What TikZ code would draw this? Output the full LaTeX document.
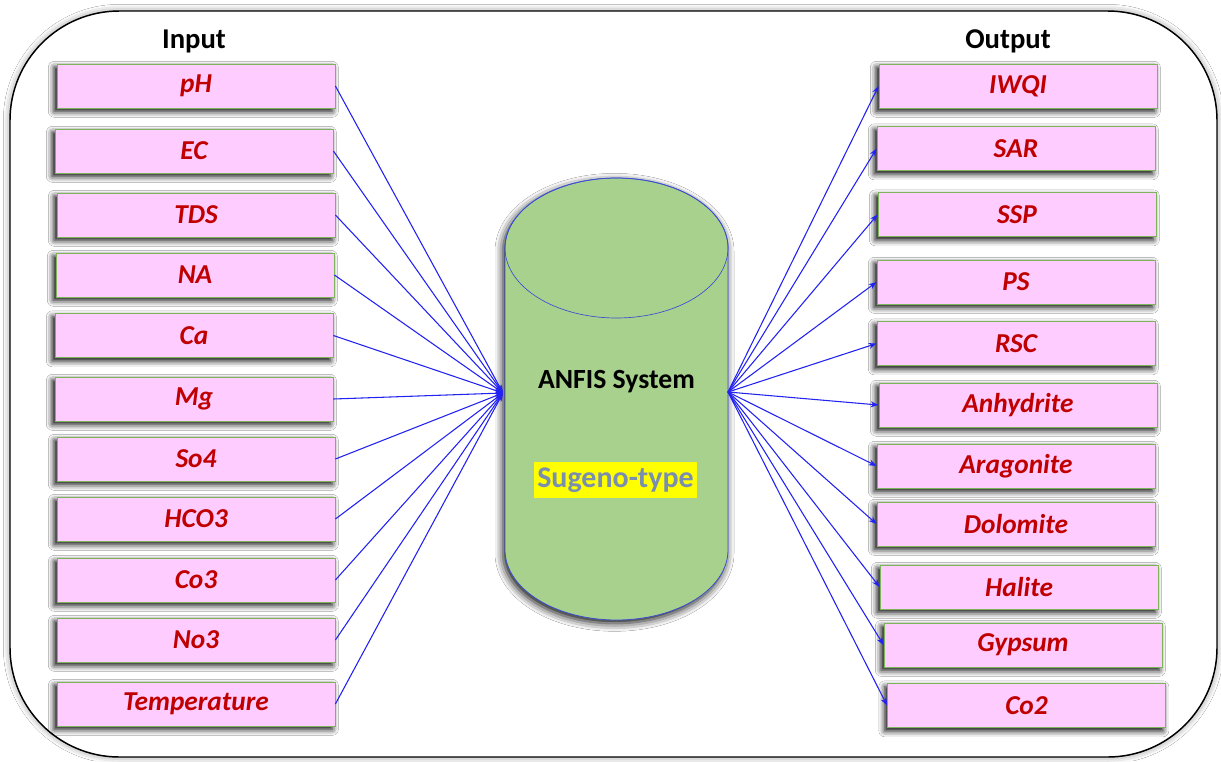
\documentclass[tikz,border=0pt]{standalone}
\usepackage{fontspec}
\setmainfont{Carlito}
\usetikzlibrary{arrows.meta,shadows.blur}
\definecolor{boxfill}{HTML}{FFCCFF}
\definecolor{boxline}{HTML}{7DB35A}
\definecolor{boxtext}{HTML}{C00000}
\definecolor{cylfill}{HTML}{A9D18E}
\definecolor{cylline}{HTML}{3A4FD0}
\definecolor{wireblue}{HTML}{2222F2}
\definecolor{sugeno}{HTML}{7A8FAE}
\definecolor{hilite}{HTML}{FFFF00}

\begin{document}
\begin{tikzpicture}[x=0.75pt,y=-0.75pt,
  varbox/.style={draw=boxline, line width=0.6pt, fill=boxfill,
    minimum width=208.5pt, minimum height=33pt, inner sep=0pt,
    font=\fontsize{20.5}{24}\selectfont\bfseries\itshape, text=boxtext,
    blur shadow={shadow xshift=-2pt, shadow yshift=-2.5pt,
      shadow blur radius=4.5pt, shadow opacity=100}},
  head/.style={font=\fontsize{21.5}{26}\selectfont\bfseries, anchor=base},
  link/.style={draw=wireblue, line width=0.8pt,
    -{Stealth[length=6pt,width=4.5pt]}}]

\useasboundingbox (0,0) rectangle (1221,761);
\fill[white] (0,0) rectangle (1221,761);

% outer frame
\draw[line width=1.1pt, fill=white, rounded corners=82pt,
  blur shadow={shadow xshift=0pt, shadow yshift=0pt,
    shadow blur radius=5pt, shadow opacity=45}]
  (10,11) rectangle (1217,757);

% headings
\node[head] (inhead) at (194,48) {Input};
\node[head] (outhead) at (1008,48) {Output};

% cylinder body (silhouette) and top ellipse
\path[fill=cylfill, draw=cylline, line width=0.6pt,
  blur shadow={shadow xshift=-1.5pt, shadow yshift=-2.5pt,
    shadow blur radius=6pt, shadow opacity=95}]
  (505,248) -- (505,550)
  .. controls (505,588.66) and (554.92,620) .. (616.5,620)
  .. controls (678.08,620) and (728,588.66) .. (728,550)
  -- (728,248)
  .. controls (728,209.34) and (678.08,178) .. (616.5,178)
  .. controls (554.92,178) and (505,209.34) .. (505,248) -- cycle;
\draw[cylline, line width=0.5pt] (616.5,248) ellipse [x radius=111.5, y radius=70];

\node[font=\fontsize{20.8}{25}\selectfont\bfseries, anchor=base] (anfis)
  at (616.5,388) {ANFIS System};
\fill[hilite] (534,462) rectangle (697,498);
\node[font=\fontsize{22.5}{26}\selectfont\bfseries, text=sugeno] (sugeno)
  at (615.5,480) {Sugeno-type};

% input variables
\node[varbox] (inpH)   at (196,86)    {pH};
\node[varbox] (inEC)   at (194,151)   {EC};
\node[varbox] (inTDS)  at (196,215)   {TDS};
\node[varbox] (inNA)   at (195,275)   {NA};
\node[varbox] (inCa)   at (194,335.5) {Ca};
\node[varbox] (inMg)   at (194,399)   {Mg};
\node[varbox] (inSo)   at (196,459)   {So4};
\node[varbox] (inHCO)  at (196,519)   {HCO3};
\node[varbox] (inCo)   at (196,580)   {Co3};
\node[varbox] (inNo)   at (196,640)   {No3};
\node[varbox] (inTemp) at (196,704)   {Temperature};

% output variables
\node[varbox] (outIWQI) at (1018,86)    {IWQI};
\node[varbox] (outSAR)  at (1016,148.5) {SAR};
\node[varbox] (outSSP)  at (1017,214.5) {SSP};
\node[varbox] (outPS)   at (1016,282)   {PS};
\node[varbox] (outRSC)  at (1016,343.5) {RSC};
\node[varbox] (outAnh)  at (1018,405)   {Anhydrite};
\node[varbox] (outAra)  at (1016,466)   {Aragonite};
\node[varbox] (outDol)  at (1016,524)   {Dolomite};
\node[varbox] (outHal)  at (1019,587)   {Halite};
\node[varbox] (outGyp)  at (1023,645)   {Gypsum};
\node[varbox] (outCO)   at (1026.5,705.5) {Co2};

% connectors
\coordinate (hubL) at (503,393);
\coordinate (hubR) at (728,392);
\foreach \n in {inpH,inEC,inTDS,inNA,inCa,inMg,inSo,inHCO,inCo,inNo,inTemp}
  \draw[link] (\n.east) -- (hubL);
\foreach \n in {outIWQI,outSAR,outSSP,outPS,outRSC,outAnh,outAra,outDol,outHal,outGyp,outCO}
  \draw[link] (hubR) -- (\n.west);
\end{tikzpicture}
\end{document}
